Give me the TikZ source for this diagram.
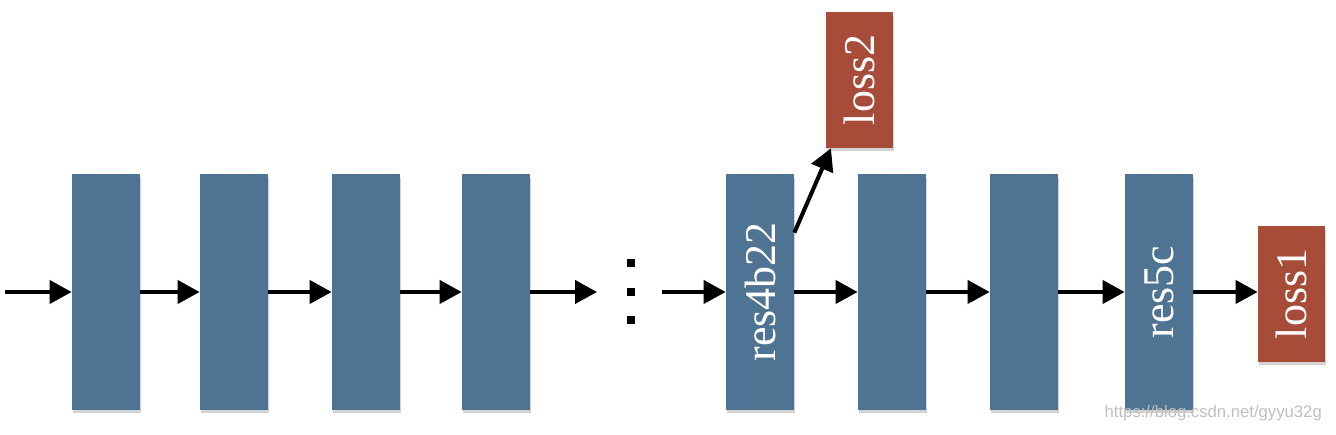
\documentclass[tikz,border=0pt]{standalone}
\usepackage{fontspec}
\setmainfont{Liberation Serif}
\newfontfamily\wmfont{Liberation Sans}
\usetikzlibrary{arrows.meta,shadows}
\definecolor{resblue}{RGB}{79,115,146}
\definecolor{lossred}{RGB}{168,76,58}
\newcommand{\vlabel}[1]{\rotatebox{90}{#1}}
\tikzset{
    layer/.style={
        fill=resblue, minimum width=1.36cm, minimum height=4.72cm,
        inner sep=0pt, text=white,
        font=\fontsize{25}{30}\selectfont,
        drop shadow={shadow xshift=0.5pt, shadow yshift=-2pt, opacity=0.35}
    },
    loss/.style={
        layer, fill=lossred, minimum width=1.34cm, minimum height=2.72cm
    },
    flow/.style={
        line width=2.3pt, -{Triangle[length=0.44cm,width=0.46cm]}
    },
    dot/.style={fill=black, minimum size=0.16cm, inner sep=0pt}
}

\begin{document}
\begin{tikzpicture}[x=0.02cm,y=0.02cm]

		\useasboundingbox (0,0) rectangle (1336,435);

		% Input
		\coordinate (in) at (5,143);

		% Layers before the gap
		\node [layer] (b1) at (106,143) {};
		\node [layer] (b2) at (234,143) {};
		\node [layer] (b3) at (366,143) {};
		\node [layer] (b4) at (496,143) {};

		% Gap
		\coordinate (gapin) at (597,143);
		\coordinate (gapout) at (662,143);
		\node [dot] (d1) at (631,172) {};
		\node [dot] (d2) at (631,143) {};
		\node [dot] (d3) at (631,115) {};

		% Layers after the gap
		\node [layer] (b5) at (760,143) {\vlabel{res4b22}};
		\node [layer] (b6) at (892,143) {};
		\node [layer] (b7) at (1024,143) {};
		\node [layer] (b8) at (1159,143) {\vlabel{res5c}};

		% Losses
		\node [loss] (loss2) at (859.5,355) {\vlabel{loss2}};
		\node [loss] (loss1) at (1291.5,141) {\vlabel{loss1}};

		% Connections
		\draw [flow] (in) -- (b1.west);
		\draw [flow] (b1.east) -- (b2.west);
		\draw [flow] (b2.east) -- (b3.west);
		\draw [flow] (b3.east) -- (b4.west);
		\draw [flow] (b4.east) -- (gapin);
		\draw [flow] (gapout) -- (b5.west);
		\draw [flow] (b5.east) -- (b6.west);
		\draw [flow] (b6.east) -- (b7.west);
		\draw [flow] (b7.east) -- (b8.west);
		\draw [flow] (b8.east) -- (loss1.west |- b8.east);
		\draw [flow] (b5.north east) ++(0,-59) coordinate (side) -- ([xshift=3pt]loss2.south west);

		% Watermark
		\node [text=black!25, font=\wmfont\fontsize{9.5}{11}\selectfont, anchor=east] (mark) at (1328,22) {https://blog.csdn.net/gyyu32g};

	\end{tikzpicture}
\end{document}
